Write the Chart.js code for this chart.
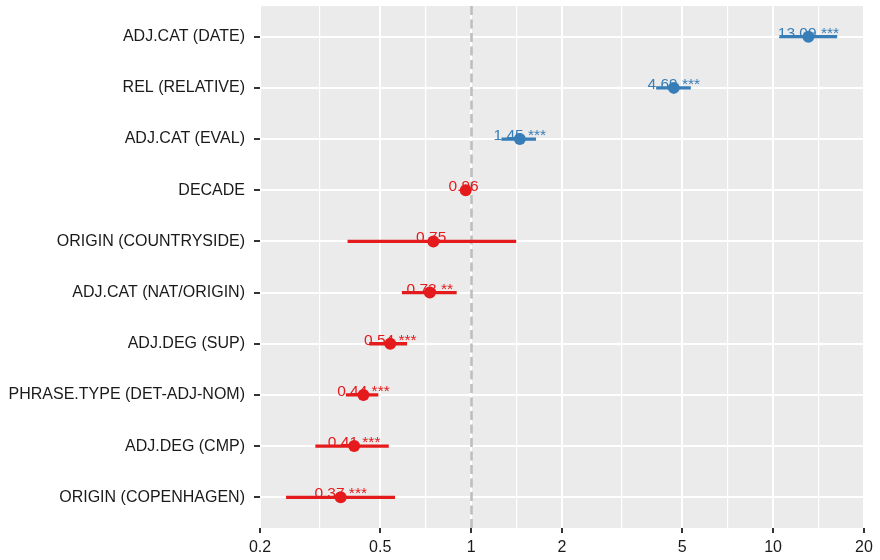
<!DOCTYPE html>
<html>
<head>
<meta charset="utf-8">
<script src="https://cdn.jsdelivr.net/npm/chart.js@4/dist/chart.umd.min.js"></script>
<style>
  html, body { margin: 0; padding: 0; background: #ffffff; }
  #wrap { width: 880px; height: 560px; }
</style>
</head>
<body>
<div id="wrap"><canvas id="orChart" width="880" height="560"></canvas></div>
<script>
// Odds ratios with 95% CI, top row first
const terms = [
  'ADJ.CAT (DATE)',
  'REL (RELATIVE)',
  'ADJ.CAT (EVAL)',
  'DECADE',
  'ORIGIN (COUNTRYSIDE)',
  'ADJ.CAT (NAT/ORIGIN)',
  'ADJ.DEG (SUP)',
  'PHRASE.TYPE (DET-ADJ-NOM)',
  'ADJ.DEG (CMP)',
  'ORIGIN (COPENHAGEN)'
];
const oddsRatio = [13.09, 4.69, 1.45, 0.96, 0.75, 0.73, 0.54, 0.44, 0.41, 0.37];
const ciLow  = [10.5, 4.1, 1.26, 0.92, 0.39, 0.59, 0.46, 0.385, 0.305, 0.244];
const ciHigh = [16.3, 5.34, 1.64, 0.99, 1.41, 0.896, 0.614, 0.493, 0.534, 0.56];
const stars = ['***', '***', '***', '', '', '**', '***', '***', '***', '***'];
const xTicks = [0.2, 0.5, 1, 2, 5, 10, 20];

const RED = '#E41A1C';
const BLUE = '#377EB8';
const FONT = '"Liberation Sans", Arial, sans-serif';
const colourFor = v => (v > 1 ? BLUE : RED);

// row index 0 sits at the top of the panel
const n = terms.length;
const rowY = i => n - 1 - i;

// minor breaks halfway between majors on the log scale
const minorTicks = [];
for (let i = 0; i < xTicks.length - 1; i++) {
  minorTicks.push(Math.sqrt(xTicks[i] * xTicks[i + 1]));
}

const forestPlugin = {
  id: 'forest',
  beforeDraw(chart) {
    const { ctx, chartArea: a } = chart;
    ctx.save();
    ctx.fillStyle = '#EBEBEB';
    ctx.fillRect(a.left, a.top, a.right - a.left, a.bottom - a.top);
    ctx.restore();
  },
  beforeDatasetsDraw(chart) {
    const { ctx, chartArea: a } = chart;
    const xs = chart.scales.x, ys = chart.scales.y;
    ctx.save();
    ctx.beginPath();
    ctx.rect(a.left, a.top, a.right - a.left, a.bottom - a.top);
    ctx.clip();

    // reference line at OR = 1
    const x1 = Math.round(xs.getPixelForValue(1)) + 0.5;
    ctx.strokeStyle = '#BEBEBE';
    ctx.lineWidth = 2.6;
    ctx.setLineDash([9, 4.5]);
    ctx.beginPath();
    ctx.moveTo(x1, a.top);
    ctx.lineTo(x1, a.bottom);
    ctx.stroke();
    ctx.setLineDash([]);

    // value labels
    ctx.font = '15.5px ' + FONT;
    ctx.textAlign = 'center';
    ctx.textBaseline = 'alphabetic';
    oddsRatio.forEach((v, i) => {
      ctx.fillStyle = colourFor(v);
      const px = xs.getPixelForValue(v);
      const py = ys.getPixelForValue(rowY(i));
      ctx.fillText(v.toFixed(2) + ' ' + stars[i], px, py + 1);
    });

    // confidence intervals
    ctx.lineWidth = 3.3;
    ctx.lineCap = 'butt';
    oddsRatio.forEach((v, i) => {
      const py = ys.getPixelForValue(rowY(i));
      ctx.strokeStyle = colourFor(v);
      ctx.beginPath();
      ctx.moveTo(xs.getPixelForValue(ciLow[i]), py);
      ctx.lineTo(xs.getPixelForValue(ciHigh[i]), py);
      ctx.stroke();
    });
    ctx.restore();
  }
};

new Chart(document.getElementById('orChart'), {
  type: 'scatter',
  data: {
    datasets: [{
      data: oddsRatio.map((v, i) => ({ x: v, y: rowY(i) })),
      pointRadius: 6,
      pointHoverRadius: 6,
      pointBackgroundColor: oddsRatio.map(colourFor),
      pointBorderWidth: 0
    }]
  },
  options: {
    responsive: false,
    animation: false,
    layout: { padding: { top: 5, right: 16, left: 0, bottom: 0 } },
    plugins: { legend: { display: false }, tooltip: { enabled: false } },
    scales: {
      x: {
        type: 'logarithmic',
        min: 0.2,
        max: 20,
        afterBuildTicks(scale) {
          const all = xTicks.map(v => ({ value: v, major: true }))
            .concat(minorTicks.map(v => ({ value: v, major: false })));
          all.sort((p, q) => p.value - q.value);
          scale.ticks = all;
        },
        afterFit(scale) { scale.height = 32; },
        ticks: {
          autoSkip: false,
          maxRotation: 0,
          padding: 5,
          color: '#1A1A1A',
          font: { family: FONT, size: 16 },
          callback(value) {
            return xTicks.includes(value) ? String(value) : '';
          }
        },
        grid: {
          color: '#FFFFFF',
          lineWidth: c => (c.tick && c.tick.major ? 2 : 1.2),
          drawTicks: true,
          tickLength: 5,
          tickWidth: 2,
          tickColor: c => (c.tick && c.tick.major ? '#333333' : 'rgba(0,0,0,0)')
        },
        border: { display: false }
      },
      y: {
        type: 'linear',
        min: -0.6,
        max: n - 0.4,
        afterBuildTicks(scale) {
          scale.ticks = terms.map((t, i) => ({ value: rowY(i) }));
        },
        afterFit(scale) {
          scale.width = 260;
          scale.paddingTop = 0;
          scale.paddingBottom = 0;
        },
        ticks: {
          autoSkip: false,
          padding: 9,
          color: '#1A1A1A',
          font: { family: FONT, size: 16 },
          callback(value) { return terms[n - 1 - value]; }
        },
        grid: {
          color: '#FFFFFF',
          lineWidth: 2,
          drawTicks: true,
          tickLength: 6,
          tickWidth: 2,
          tickColor: '#333333'
        },
        border: { display: false }
      }
    }
  },
  plugins: [forestPlugin]
});
</script>
</body>
</html>
